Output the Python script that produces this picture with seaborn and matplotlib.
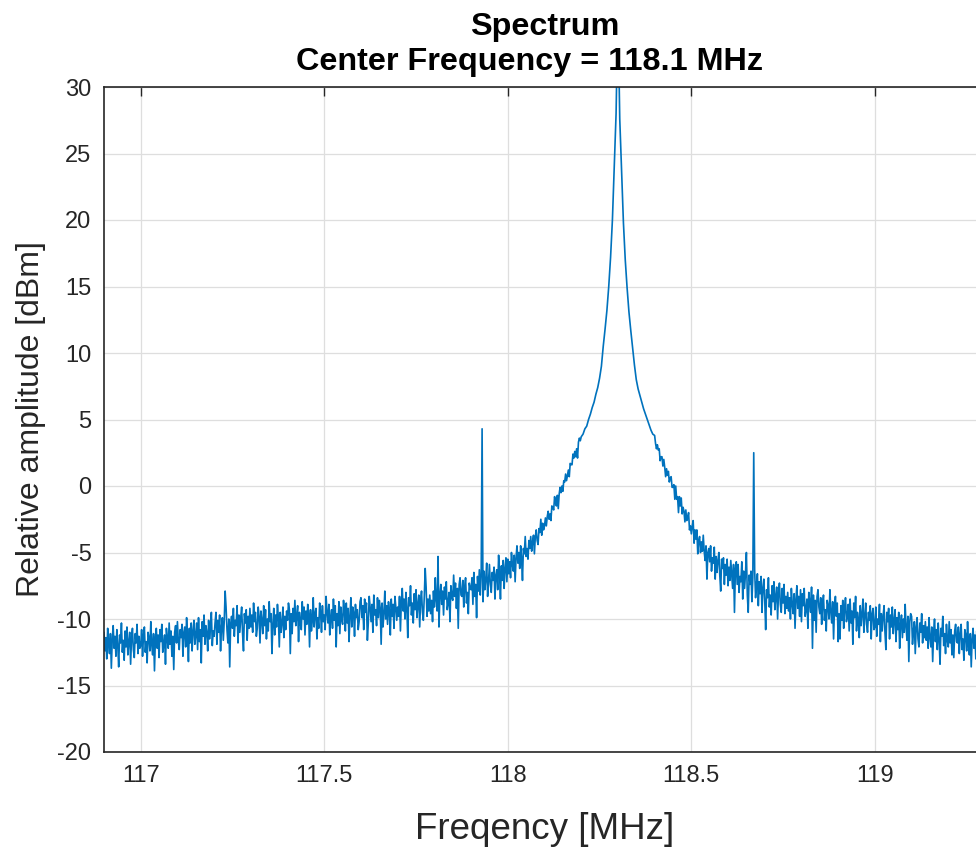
import matplotlib
import matplotlib.pyplot as plt
import numpy as np
import pandas as pd
import seaborn as sns

matplotlib.use("Agg")

# the trace is sampled every 2.5 kHz, the carrier top every 5 kHz
noise_left_start, noise_left_step = 116.9, 0.0025
skirt_left_start, skirt_left_step = 118.0, 0.0025
carrier_start, carrier_step = 118.2, 0.005
skirt_right_start, skirt_right_step = 118.4, 0.0025
noise_right_start, noise_right_step = 118.6, 0.0025

# amplitude per bin [dBm], one row = 0.1 MHz
noise_left = [
    -11.0, -12.4, -11.4, -13.0, -10.7, -11.9, -12.6, -11.1, -13.7, -11.5, -10.5, -12.2, -11.3, -12.8, -10.8, -12.0, -13.6, -11.2, -11.8, -10.3,
    -12.5, -11.6, -13.1, -10.9, -12.1, -10.6, -12.7, -11.7, -11.0, -13.4, -11.4, -10.7, -12.3, -12.9, -11.1, -11.8, -10.4, -12.6, -11.3, -12.2,
    -12.0, -10.8, -12.8, -11.3, -10.6, -12.5, -11.7, -13.3, -11.0, -11.4, -12.4, -10.2, -11.9, -12.7, -11.1, -13.9, -11.5, -10.7, -12.2, -11.2,
    -12.9, -10.8, -11.7, -10.4, -12.5, -12.0, -11.2, -13.4, -10.7, -11.5, -12.2, -10.3, -11.9, -10.9, -12.8, -11.3, -13.8, -11.0, -10.5, -11.8,
    -10.2, -11.7, -12.3, -10.8, -11.4, -10.4, -12.8, -11.0, -10.6, -12.1, -9.9, -11.3, -13.2, -10.7, -11.8, -10.3, -12.4, -10.9, -10.1, -11.9,
    -11.2, -10.3, -12.3, -9.9, -11.7, -10.8, -13.3, -10.2, -11.3, -9.7, -11.9, -10.5, -11.0, -12.4, -10.1, -11.5, -10.7, -9.5, -12.0, -10.9,
    -11.3, -10.3, -9.5, -11.9, -10.1, -11.0, -9.7, -12.4, -10.6, -9.9, -11.6, -10.2, -7.9, -9.1, -10.8, -11.8, -10.0, -13.6, -10.4, -9.8,
    -10.7, -9.2, -11.3, -10.1, -10.5, -9.0, -11.8, -9.7, -11.0, -9.9, -9.1, -11.1, -12.4, -9.6, -10.3, -9.3, -11.6, -9.8, -10.7, -9.2,
    -10.6, -9.7, -11.0, -8.8, -10.2, -9.5, -11.3, -10.7, -9.1, -9.8, -11.8, -9.4, -10.1, -11.1, -9.0, -10.5, -9.3, -11.5, -10.0, -10.9,
    -8.7, -10.2, -9.6, -12.6, -10.4, -9.2, -11.2, -9.7, -10.6, -8.9, -9.9, -12.1, -9.5, -11.0, -10.3, -9.1, -11.4, -9.8, -10.8, -9.4,
    -10.1, -8.8, -9.3, -12.6, -9.6, -11.1, -9.2, -10.2, -8.6, -10.5, -9.8, -9.0, -11.7, -9.5, -10.3, -10.8, -8.7, -10.0, -9.1, -11.2,
    -9.4, -10.4, -8.9, -9.7, -12.1, -9.3, -10.9, -10.1, -8.4, -10.6, -9.6, -9.2, -11.5, -9.9, -10.7, -8.8, -9.5, -11.0, -9.0, -10.2,
    -9.7, -10.8, -8.3, -9.5, -10.3, -8.9, -11.2, -9.8, -9.3, -10.7, -8.5, -10.1, -9.0, -12.1, -9.6, -10.5, -8.7, -11.1, -9.1, -10.0,
    -10.4, -8.6, -9.4, -10.9, -8.8, -10.3, -9.2, -11.7, -9.8, -8.4, -10.6, -9.1, -9.5, -11.3, -8.9, -9.9, -9.3, -10.8, -10.2, -8.7,
    -8.4, -9.9, -9.0, -10.8, -8.5, -9.5, -8.8, -11.6, -10.3, -8.3, -9.1, -10.2, -8.9, -11.0, -8.2, -9.7, -9.3, -10.5, -8.4, -9.9,
    -8.6, -9.2, -11.9, -8.8, -10.6, -9.6, -7.9, -10.0, -9.0, -10.4, -8.7, -9.4, -11.2, -8.5, -9.8, -8.9, -10.7, -8.3, -9.1, -10.1,
    -9.1, -9.8, -8.3, -10.9, -8.7, -7.7, -9.4, -8.5, -10.0, -8.0, -9.2, -11.4, -8.4, -9.0, -7.5, -9.7, -8.8, -10.3, -8.1, -9.3,
    -7.8, -9.9, -8.9, -8.2, -10.6, -8.6, -7.9, -9.5, -10.1, -8.3, -6.2, -7.6, -9.8, -8.5, -9.4, -8.2, -9.6, -8.6, -10.2, -7.9,
    -9.1, -6.9, -8.6, -9.4, -5.3, -10.6, -8.2, -7.4, -8.9, -7.9, -9.7, -7.6, -8.5, -7.2, -9.3, -8.8, -8.0, -10.2, -7.5, -8.3,
    -8.6, -6.7, -8.3, -7.3, -9.2, -7.7, -10.7, -7.4, -6.9, -8.2, -8.3, -7.1, -9.1, -7.6, -6.9, -8.8, -8.0, -9.6, -7.3, -7.7,
    -7.8, -6.9, -8.9, -6.5, -8.3, -7.4, -9.9, -6.8, -7.9, -6.3, -8.2, -6.8, 4.3, -8.7, -6.4, -7.8, -7.0, -5.8, -8.3, -7.2,
    -5.9, -7.4, -8.0, -6.5, -7.1, -6.1, -8.5, -6.7, -6.3, -7.8, -5.2, -6.6, -8.5, -6.0, -7.1, -5.6, -7.7, -6.2, -5.4, -7.2,
]
skirt_left = [
    -5.5, -6.6, -5.7, -6.9, -5.0, -5.9, -6.4, -5.2, -7.2, -5.4, -4.5, -5.8, -5.0, -6.2, -4.5, -5.4, -7.1, -4.7, -5.1, -3.8,
    -5.3, -4.7, -5.5, -4.1, -4.7, -3.8, -4.9, -4.2, -3.7, -5.1, -3.8, -3.3, -4.1, -4.4, -3.2, -3.5, -2.5, -3.7, -2.8, -3.3,
    -3.0, -2.4, -3.0, -2.3, -1.9, -2.5, -2.1, -2.6, -1.5, -1.6, -1.8, -0.8, -1.3, -1.5, -0.7, -1.7, -0.6, -0.1, -0.5, 0.0,
    -0.4, 0.4, 0.3, 0.9, 0.4, 0.8, 1.2, 0.7, 1.7, 1.6, 1.6, 2.4, 2.1, 2.6, 2.2, 2.8, 2.1, 3.3, 3.6, 3.4,
]
carrier = [
    3.7, 3.9, 4.3, 4.5, 5.0, 5.4, 5.9, 6.3, 6.9, 7.4, 8.1, 9.0, 10.5, 11.8, 13.2, 15.0, 17.2, 20.0, 24.0, 28.0,
    36.0, 27.6, 23.8, 19.8, 17.0, 14.9, 13.1, 11.7, 10.4, 9.1, 8.0, 7.3, 6.8, 6.3, 5.8, 5.4, 5.0, 4.6, 4.2, 3.9,
]
skirt_right = [
    3.8, 3.2, 2.8, 3.1, 2.7, 2.8, 1.9, 2.2, 2.2, 1.5, 2.0, 1.4, 0.7, 1.3, 0.8, 1.1, 0.3, 0.6, 0.7, -0.1,
    -0.1, 0.1, -1.0, 0.0, -1.0, -0.8, -2.0, -0.8, -1.5, -0.9, -2.1, -1.6, -1.9, -2.7, -1.8, -2.6, -2.4, -2.0, -3.3, -3.0,
    -3.6, -3.0, -2.6, -4.3, -3.3, -4.0, -3.3, -5.1, -4.1, -3.8, -5.0, -4.2, -4.9, -3.7, -4.9, -5.6, -4.5, -7.0, -5.0, -4.7,
    -5.7, -4.5, -6.4, -5.4, -5.8, -4.6, -7.0, -5.3, -6.5, -5.6, -5.0, -6.7, -7.9, -5.5, -6.2, -5.4, -7.4, -5.9, -6.7, -5.5,
]
noise_right = [
    -7.5, -6.1, -7.1, -5.6, -6.7, -7.7, -5.9, -9.5, -6.3, -5.7, -7.4, -5.9, -8.0, -6.8, -7.2, -5.7, -8.5, -6.4, -7.7, -6.6,
    -5.0, -8.2, -9.5, -6.7, -7.4, -6.4, -8.7, -6.9, 2.5, -6.3, -8.4, -7.4, -6.6, -9.0, -7.2, -8.1, -6.8, -9.5, -7.7, -7.0,
    -8.6, -10.8, -7.8, -8.4, -6.9, -9.1, -8.2, -9.7, -7.5, -8.7, -7.2, -9.3, -8.3, -7.6, -10.0, -8.0, -7.3, -8.9, -9.5, -7.7,
    -8.8, -7.4, -9.6, -8.3, -9.2, -8.0, -9.4, -8.4, -10.0, -7.7, -8.9, -9.6, -8.1, -10.7, -8.5, -7.5, -9.2, -8.3, -9.8, -7.8,
    -10.2, -8.1, -9.0, -7.7, -9.8, -9.3, -8.5, -10.7, -8.0, -8.8, -9.5, -7.6, -12.2, -8.2, -10.1, -8.6, -11.0, -8.3, -7.8, -9.1,
    -9.6, -8.4, -10.4, -8.9, -8.2, -10.1, -9.3, -10.9, -8.6, -9.0, -10.0, -7.8, -9.5, -10.3, -8.7, -11.5, -9.1, -8.3, -9.8, -8.8,
    -11.7, -9.6, -11.5, -9.0, -10.1, -8.6, -10.7, -9.2, -8.4, -10.2, -9.8, -8.9, -10.9, -8.5, -10.3, -9.4, -11.9, -8.8, -9.9, -8.3,
    -10.9, -9.5, -10.0, -11.4, -9.0, -10.5, -9.6, -8.5, -11.0, -9.8, -8.8, -10.4, -11.0, -9.5, -10.1, -9.0, -11.5, -9.6, -9.2, -10.8,
    -10.6, -9.1, -11.3, -10.0, -10.4, -8.9, -11.7, -9.6, -10.9, -9.8, -9.0, -11.0, -12.3, -9.5, -10.2, -9.2, -11.5, -9.7, -10.6, -9.1,
    -11.1, -10.1, -9.3, -11.7, -9.9, -10.8, -9.5, -12.2, -10.4, -9.7, -11.4, -10.0, -11.0, -8.9, -10.6, -11.6, -9.8, -13.2, -10.2, -9.6,
    -9.8, -11.9, -10.9, -10.2, -12.6, -10.6, -9.9, -11.5, -12.1, -10.3, -11.0, -9.6, -11.8, -10.5, -11.4, -10.2, -11.6, -10.6, -12.2, -9.9,
    -11.4, -12.1, -10.6, -13.2, -11.0, -10.0, -11.7, -10.8, -12.3, -10.3, -11.5, -13.4, -10.7, -11.3, -9.8, -12.0, -11.1, -12.6, -10.4, -11.6,
    -12.1, -10.2, -11.8, -10.8, -12.7, -11.2, -12.9, -10.9, -10.4, -11.7, -11.8, -10.6, -12.6, -11.1, -10.4, -12.3, -11.5, -13.1, -10.8, -11.2,
    -12.4, -10.2, -11.9, -12.7, -11.1, -13.6, -11.5, -10.7, -12.2, -11.2, -13.0, -10.9, -11.8, -10.5, -12.6, -12.1, -11.3, -13.3, -10.8, -11.6,
    -12.2,
]

x_ticks = [117, 117.5, 118, 118.5, 119]
x_tick_labels = ["117", "117.5", "118", "118.5", "119"]
y_ticks = [-20, -15, -10, -5, 0, 5, 10, 15, 20, 25, 30]

blocks = [
    (noise_left_start, noise_left_step, noise_left),
    (skirt_left_start, skirt_left_step, skirt_left),
    (carrier_start, carrier_step, carrier),
    (skirt_right_start, skirt_right_step, skirt_right),
    (noise_right_start, noise_right_step, noise_right),
]
frames = []
for start, step, vals in blocks:
    f = np.round(start + step * np.arange(len(vals)), 4)
    frames.append(pd.DataFrame({"freq": f, "amp": vals}))
df = pd.concat(frames, ignore_index=True)

sns.set_theme(style="whitegrid")
plt.rcParams["font.family"] = ["Liberation Sans", "DejaVu Sans"]
plt.rcParams["axes.unicode_minus"] = False

fig = plt.figure(figsize=(9.76, 8.49), dpi=100)
# right edge of the axes runs a little past the picture, as in the source
ax = fig.add_axes([104 / 976, 97 / 849, 881 / 976, 665 / 849])

sns.lineplot(data=df, x="freq", y="amp", ax=ax, color="#0072BD",
             linewidth=1.2, estimator=None, sort=False)

ax.set_xlim(116.9, 119.3)
ax.set_ylim(-20, 30)
ax.set_xticks(x_ticks)
ax.set_xticklabels(x_tick_labels)
ax.set_yticks(y_ticks)

ax.set_facecolor("white")
ax.grid(True, color="#dedede", linewidth=0.9)
for s in ax.spines.values():
    s.set_color("#262626")
    s.set_linewidth(1.2)
ax.tick_params(direction="in", length=6.5, width=1, color="#262626",
               top=True, right=True, labelsize=17, labelcolor="#262626", pad=9)

ax.set_xlabel("Freqency [MHz]", fontsize=26.5, color="#262626")
ax.xaxis.set_label_coords(0.5, -0.09)
ax.set_ylabel("Relative amplitude [dBm]", fontsize=23, color="#262626")
ax.yaxis.set_label_coords(-0.066, 0.5)

fig.text(545 / 976, 1 - 34.5 / 849, "Spectrum", ha="center", va="baseline",
         fontsize=23.3, fontweight="bold", color="black")
fig.text(529 / 976, 1 - 70 / 849, "Center Frequency = 118.1 MHz", ha="center",
         va="baseline", fontsize=23.3, fontweight="bold", color="black")

plt.savefig("out.png", dpi=100)
